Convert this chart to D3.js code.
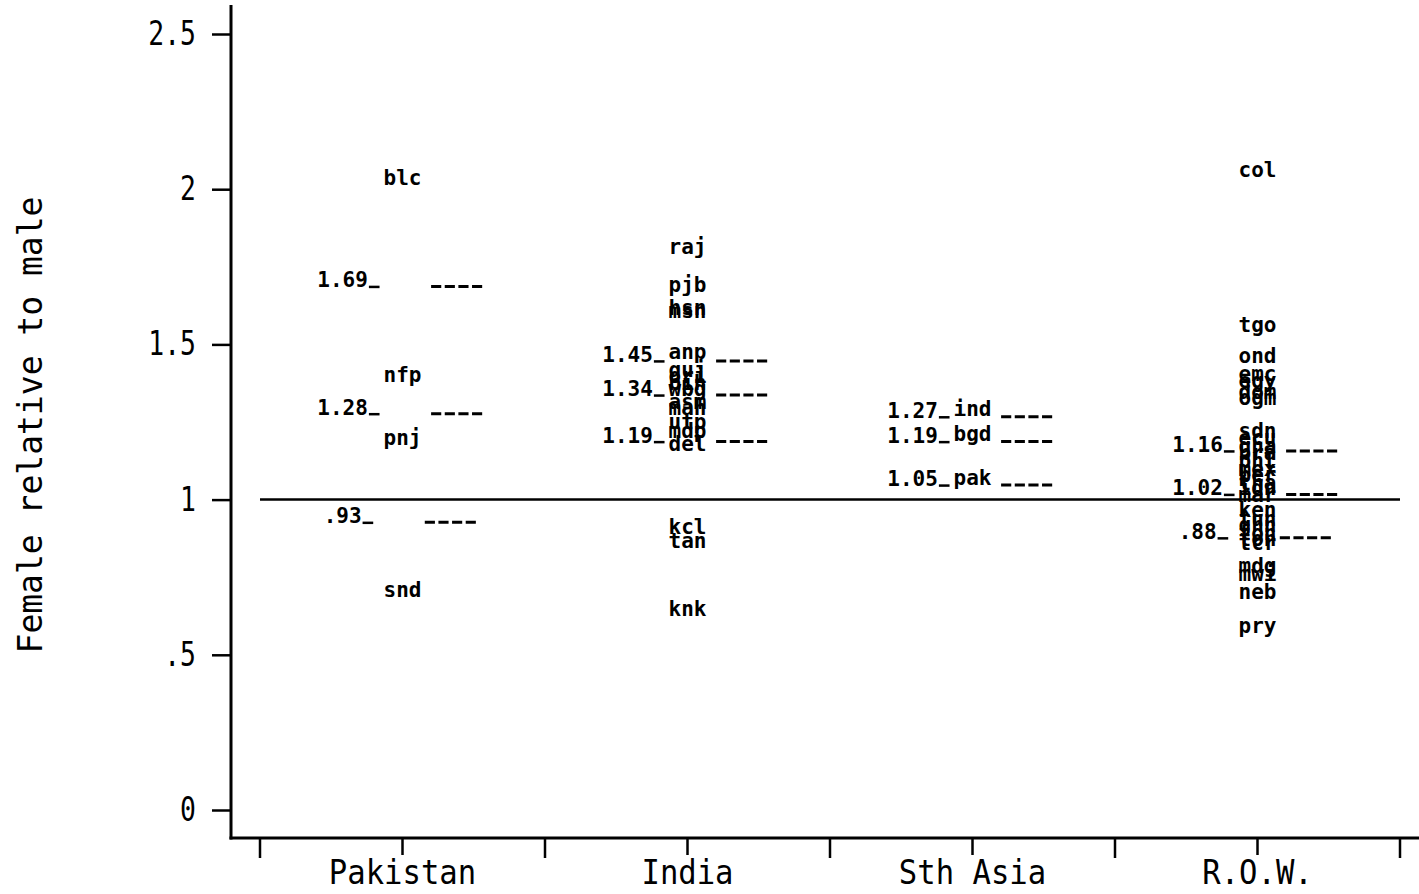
<!DOCTYPE html>
<html>
<head>
<meta charset="utf-8">
<script src="https://cdn.jsdelivr.net/npm/d3@7"></script>
<style>
  html, body { margin: 0; padding: 0; background: #fff; }
  svg { display: block; }
</style>
</head>
<body>
<svg id="chart" width="1419" height="894"></svg>
<script>
// ---------------- data ----------------
const categories = ["Pakistan", "India", "Sth Asia", "R.O.W."];
const yTicks = [0, 0.5, 1, 1.5, 2, 2.5];

const codesPakistan  = ["blc", "nfp", "pnj", "snd"];
const valuesPakistan = [2.014, 1.379, 1.176, 0.689];

const codesIndia  = ["raj", "pjb", "hsn", "msn", "anp", "guj", "ori", "bih", "wbg", "asm", "mah", "utp", "mdp", "del", "kcl", "tan", "knk"];
const valuesIndia = [1.794, 1.669, 1.595, 1.588, 1.453, 1.395, 1.376, 1.356, 1.334, 1.295, 1.273, 1.228, 1.200, 1.157, 0.892, 0.847, 0.628];

const codesSthAsia  = ["ind", "bgd", "pak"];
const valuesSthAsia = [1.27, 1.19, 1.05];

const codesROW  = ["col", "tgo", "ond", "emc", "egy", "dom", "ogm", "sdn", "ecu", "gha", "bra", "phl", "mex", "per", "tha", "idn", "mar", "ken", "tun", "ghn", "ton", "ton", "tcr", "mdg", "mwi", "neb", "pry"];
const valuesROW = [2.040, 1.543, 1.443, 1.385, 1.360, 1.325, 1.305, 1.200, 1.176, 1.153, 1.128, 1.105, 1.079, 1.057, 1.034, 1.015, 0.995, 0.944, 0.918, 0.896, 0.873, 0.851, 0.838, 0.765, 0.740, 0.680, 0.573];

const summaryPakistan = [1.69, 1.28, 0.93];
const summaryIndia    = [1.45, 1.34, 1.19];
const summarySthAsia  = [1.27, 1.19, 1.05];
const summaryROW      = [1.16, 1.02, 0.88];

const referenceValue = 1;

// ---------------- layout ----------------
const svg = d3.select("#chart");
const axisX = 231, axisTop = 5, axisBottom = 838;
const plotLeft = 260, plotRight = 1400;
const MONO = "'DejaVu Sans Mono', 'Liberation Mono', monospace";

const y = d3.scaleLinear().domain([0, 2.5]).range([810, 34]);
const x = d3.scaleBand().domain(categories).range([plotLeft, plotRight]).padding(0);
const cx = c => x(c) + x.bandwidth() / 2;

const fmt = v => {
  let s = d3.format("")(+v.toFixed(2));
  if (s.startsWith("0.")) s = s.slice(1);
  return s;
};

const groups = [
  { cat: "Pakistan", codes: codesPakistan, values: valuesPakistan, summary: summaryPakistan },
  { cat: "India",    codes: codesIndia,    values: valuesIndia,    summary: summaryIndia },
  { cat: "Sth Asia", codes: codesSthAsia,  values: valuesSthAsia,  summary: summarySthAsia },
  { cat: "R.O.W.",   codes: codesROW,      values: valuesROW,      summary: summaryROW }
];

// ---------------- axes ----------------
svg.append("line")
  .attr("x1", axisX).attr("x2", axisX).attr("y1", axisTop).attr("y2", axisBottom + 1.5)
  .attr("stroke", "#000").attr("stroke-width", 3);

const sxY = 0.8;
const yAxis = svg.append("g")
  .attr("transform", `translate(${axisX},0)`)
  .call(d3.axisLeft(y).tickValues(yTicks).tickFormat(fmt).tickSize(19).tickPadding(16));
yAxis.select(".domain").remove();
yAxis.selectAll(".tick line").attr("stroke", "#000").attr("stroke-width", 2.5);
yAxis.selectAll(".tick text")
  .attr("font-family", MONO).attr("font-size", 33).attr("fill", "#000")
  .attr("x", -(19 + 16) / sxY)
  .attr("transform", `scale(${sxY},1)`);

svg.append("line")
  .attr("x1", axisX - 1.5).attr("x2", 1419).attr("y1", axisBottom).attr("y2", axisBottom)
  .attr("stroke", "#000").attr("stroke-width", 3);

const bounds = categories.map(c => x(c)).concat([x(categories[categories.length - 1]) + x.bandwidth()]);
svg.selectAll(".btick").data(bounds).enter().append("line")
  .attr("x1", d => d).attr("x2", d => d)
  .attr("y1", axisBottom).attr("y2", axisBottom + 20)
  .attr("stroke", "#000").attr("stroke-width", 2.5);

const xAxis = svg.append("g")
  .attr("transform", `translate(0,${axisBottom})`)
  .call(d3.axisBottom(x).tickSize(17).tickPadding(0));
xAxis.select(".domain").remove();
xAxis.selectAll(".tick line").attr("stroke", "#000").attr("stroke-width", 2.5);
const sxX = 0.9;
xAxis.selectAll(".tick text")
  .attr("font-family", MONO).attr("font-size", 34).attr("fill", "#000")
  .attr("y", 46).attr("dy", 0).attr("x", 0)
  .attr("transform", `scale(${sxX},1)`);

svg.append("text")
  .attr("transform", `translate(42,425) rotate(-90)`)
  .attr("text-anchor", "middle")
  .attr("font-family", MONO).attr("font-size", 33).attr("fill", "#000")
  .text("Female relative to male");

// ---------------- reference line ----------------
svg.append("line")
  .attr("x1", plotLeft).attr("x2", plotRight)
  .attr("y1", y(referenceValue)).attr("y2", y(referenceValue))
  .attr("stroke", "#000").attr("stroke-width", 2.5);

// ---------------- code labels ----------------
const CODE_SIZE = 21;
const adv = 0.602 * CODE_SIZE;

groups.forEach(g => {
  const pts = g.codes.map((c, i) => ({ code: c, v: g.values[i] }));
  svg.append("g").selectAll("text").data(pts).enter().append("text")
    .attr("x", cx(g.cat))
    .attr("y", d => y(d.v) + 0.5)
    .attr("text-anchor", "middle")
    .attr("font-family", MONO).attr("font-weight", "bold")
    .attr("font-size", CODE_SIZE).attr("fill", "#000")
    .text(d => d.code);

  g.summary.forEach(v => {
    const lab = fmt(v);
    const n = lab.length + 1 + 4 + 4;
    const start = cx(g.cat) - n * adv / 2 - 3;
    const yy = y(v);
    svg.append("text")
      .attr("x", start).attr("y", yy + 2)
      .attr("font-family", MONO).attr("font-weight", "bold")
      .attr("font-size", CODE_SIZE).attr("fill", "#000")
      .text(lab);
    svg.append("line")
      .attr("x1", start + lab.length * adv + 1).attr("x2", start + (lab.length + 1) * adv - 1)
      .attr("y1", yy + 1.5).attr("y2", yy + 1.5)
      .attr("stroke", "#000").attr("stroke-width", 2.5);
    const d0 = start + (lab.length + 5) * adv;
    svg.append("line")
      .attr("x1", d0).attr("x2", d0 + 4 * adv + 3)
      .attr("y1", yy + 1).attr("y2", yy + 1)
      .attr("stroke", "#000").attr("stroke-width", 3)
      .attr("stroke-dasharray", `${adv - 2.5},3.5`);
  });
});
</script>
</body>
</html>
